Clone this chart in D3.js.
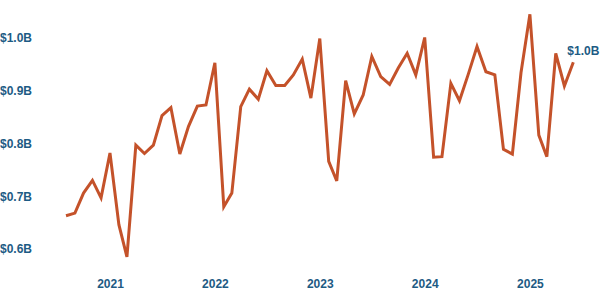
<!DOCTYPE html>
<html>
<head>
<meta charset="utf-8">
<script src="https://cdn.jsdelivr.net/npm/d3@7"></script>
<style>
  body { margin: 0; background: #fff; }
  svg text { font-family: "Liberation Sans", Arial, sans-serif; font-weight: bold; }
</style>
</head>
<body>
<div id="chart"></div>
<script>
// monthly values, Aug 2020 .. Jun 2025 (billions)
const START_MONTH = new Date(2020, 7, 1);
const VALUES = [
  0.663, 0.668, 0.706, 0.730, 0.697, 0.782, 0.646, 0.585, 0.797, 0.781,
  0.797, 0.853, 0.868, 0.780, 0.832, 0.871, 0.873, 0.953, 0.680, 0.706,
  0.870, 0.903, 0.884, 0.938, 0.910, 0.910, 0.930, 0.960, 0.886, 0.999,
  0.766, 0.729, 0.919, 0.856, 0.892, 0.965, 0.927, 0.912, 0.943, 0.971,
  0.930, 1.001, 0.774, 0.775, 0.914, 0.881, 0.932, 0.984, 0.936, 0.930,
  0.789, 0.780, 0.934, 1.045, 0.816, 0.775, 0.971, 0.909, 0.954
];
const Y_TICKS = [0.6, 0.7, 0.8, 0.9, 1.0];
const YEAR_TICKS = [2021, 2022, 2023, 2024, 2025];

const WIDTH = 600;
const HEIGHT = 300;
const TEXT_COLOR = "#1d5b84";
const LINE_COLOR = "#c4522a";

const data = VALUES.map((v, i) => ({
  date: d3.timeMonth.offset(START_MONTH, i),
  value: v
}));

const svg = d3.select("#chart").append("svg")
  .attr("width", WIDTH)
  .attr("height", HEIGHT);

const x = d3.scaleTime()
  .domain(d3.extent(data, d => d.date))
  .range([66, 573.3]);

const y = d3.scaleLinear()
  .domain([0.6, 1.0])
  .range([249, 38]);

// y axis labels
const yAxis = svg.append("g")
  .call(d3.axisLeft(y)
    .tickValues(Y_TICKS)
    .tickSize(0)
    .tickFormat(d => "$" + d.toFixed(1) + "B"));
yAxis.select(".domain").remove();
yAxis.selectAll("text")
  .attr("x", 0)
  .attr("text-anchor", "start")
  .attr("fill", TEXT_COLOR)
  .style("font-size", "12px");

// x axis labels
const xAxis = svg.append("g")
  .attr("transform", "translate(0,276)")
  .call(d3.axisBottom(x)
    .tickValues(YEAR_TICKS.map(yr => new Date(yr, 0, 1)))
    .tickSize(0)
    .tickPadding(3)
    .tickFormat(d3.timeFormat("%Y")));
xAxis.select(".domain").remove();
xAxis.selectAll("text")
  .attr("fill", TEXT_COLOR)
  .style("font-size", "12px");

// line
const line = d3.line()
  .x(d => x(d.date))
  .y(d => y(d.value));

svg.append("path")
  .datum(data)
  .attr("fill", "none")
  .attr("stroke", LINE_COLOR)
  .attr("stroke-width", 3)
  .attr("stroke-linejoin", "miter")
  .attr("d", line);

// last value label
const last = data[data.length - 1];
svg.append("text")
  .attr("x", x(last.date) + 10)
  .attr("y", y(last.value) - 7)
  .attr("text-anchor", "middle")
  .attr("fill", TEXT_COLOR)
  .style("font-size", "12px")
  .text("$" + last.value.toFixed(1) + "B");
</script>
</body>
</html>
